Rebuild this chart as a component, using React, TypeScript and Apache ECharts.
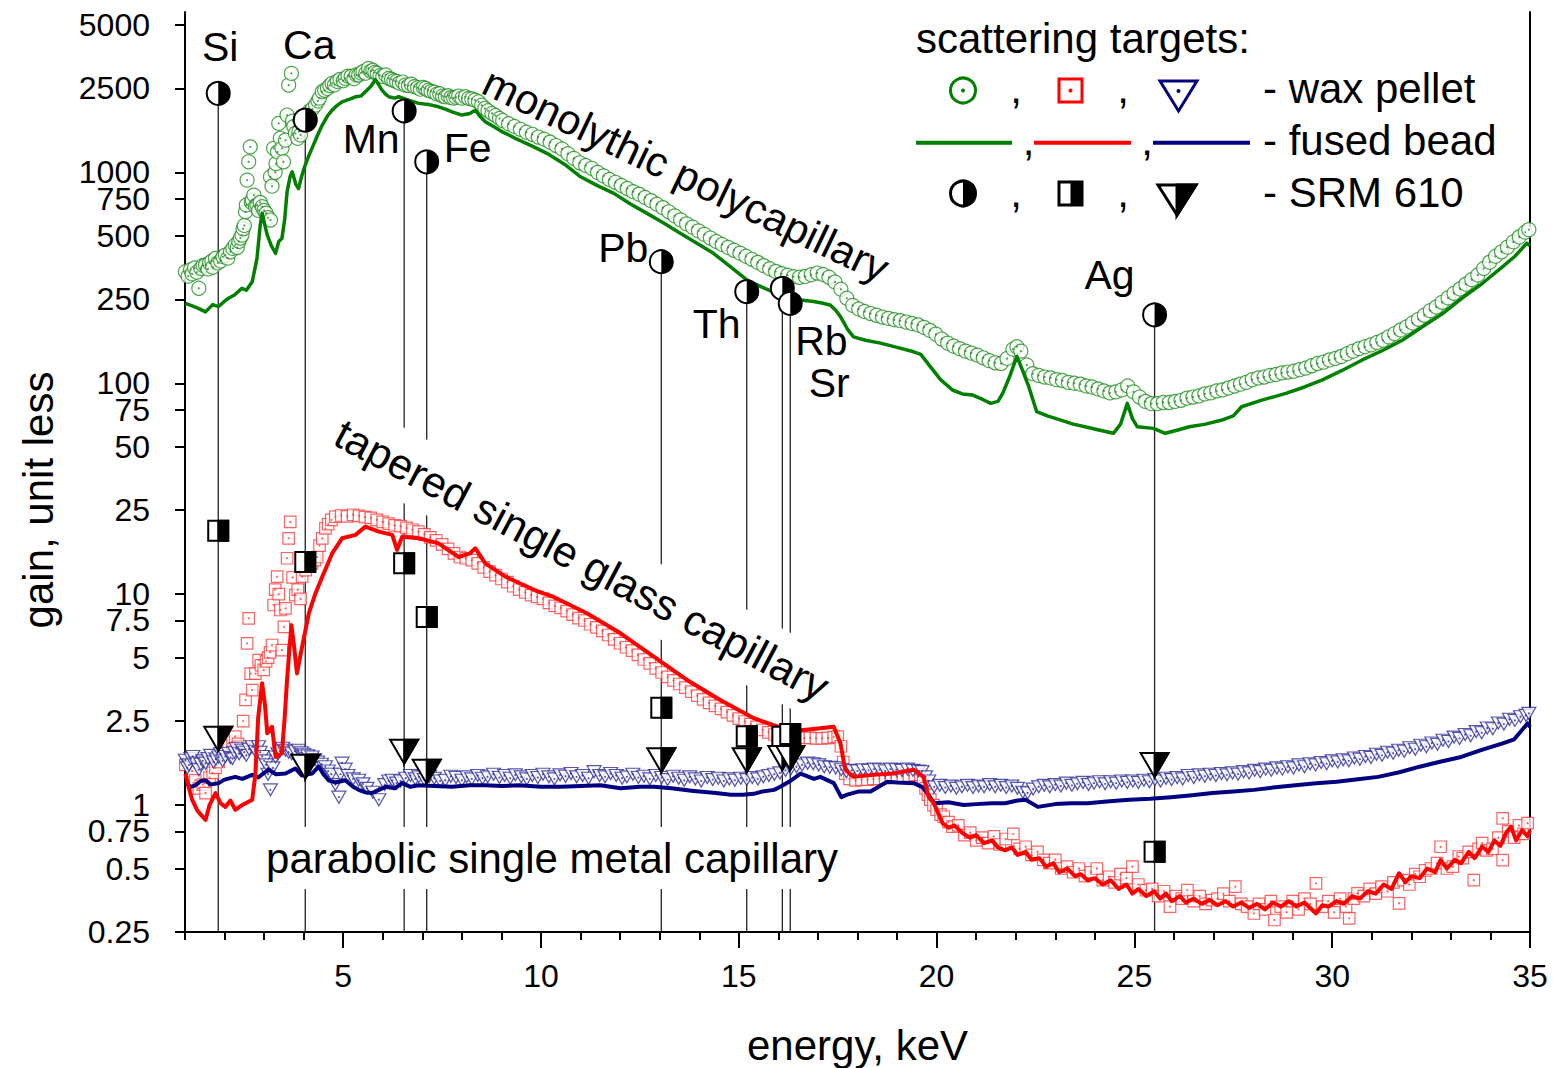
import React, { useEffect, useRef } from 'react';
import * as echarts from 'echarts';

const FONT = '"Liberation Sans", Arial, Helvetica, sans-serif';

// ---------------- axes ----------------
const yTickValues = [0.25, 0.5, 0.75, 1, 2.5, 5, 7.5, 10, 25, 50, 75, 100, 250, 500, 750, 1000, 2500, 5000];
const xMajorTicks = [5, 10, 15, 20, 25, 30, 35];
const xMinorTicks = [1, 2, 3, 4, 6, 7, 8, 9, 11, 12, 13, 14, 16, 17, 18, 19, 21, 22, 23, 24, 26, 27, 28, 29, 31, 32, 33, 34];
const yMin = 0.25;
const yMax = 5760;

// ---------------- SRM 610 points ----------------
const elementNames = ['Si', 'Ca', 'Mn', 'Fe', 'Pb', 'Th', 'Rb', 'Sr', 'Ag'];
const edgeEnergy = [1.84, 4.04, 6.54, 7.11, 13.04, 15.2, 16.1, 16.3, 25.51];
const srmMonolythic = [2370, 1770, 1954, 1122, 377, 272, 282, 239, 211];
const srmTapered = [20.0, 14.2, 14.0, 7.8, 2.89, 2.12, 2.11, 2.17, 0.6];
const srmParabolic = [2.06, 1.52, 1.79, 1.44, 1.63, 1.63, 1.67, 1.67, 1.55];

// ---------------- monolythic polycapillary ----------------
const monoWax = [
  [1.01, 338], [1.08, 322], [1.14, 345], [1.18, 330], [1.24, 352], [1.30, 336], [1.35, 282], [1.40, 350], [1.46, 362], [1.52, 363],
  [1.58, 348], [1.62, 372], [1.68, 380], [1.70, 355], [1.77, 391], [1.83, 372], [1.90, 380], [1.96, 398], [2.02, 405], [2.08, 392],
  [2.15, 420], [2.21, 436], [2.27, 452], [2.32, 440], [2.36, 470], [2.40, 488], [2.44, 504], [2.47, 540], [2.50, 560], [2.53, 650],
  [2.55, 700], [2.57, 919], [2.61, 1122], [2.65, 1321], [2.68, 720], [2.70, 740], [2.74, 780], [2.78, 690], [2.82, 700], [2.86, 660],
  [2.90, 720], [2.95, 687], [3.00, 660], [3.05, 640], [3.10, 610], [3.16, 594], [3.16, 953], [3.20, 860], [3.24, 1300], [3.28, 1000],
  [3.30, 1100], [3.34, 1250], [3.37, 1707], [3.41, 1450], [3.45, 1300], [3.49, 1122], [3.54, 1422], [3.58, 1869], [3.62, 2594], [3.69, 2946],
  [3.72, 1750], [3.75, 1650], [3.79, 1531], [3.85, 1450], [3.88, 1560], [3.92, 1504], [3.98, 1700], [4.04, 1869], [4.10, 1900], [4.15, 1950],
  [4.22, 2000], [4.30, 2084], [4.36, 2180], [4.40, 2250], [4.47, 2412], [4.53, 2450], [4.60, 2500], [4.66, 2580], [4.72, 2642], [4.78, 2600],
  [4.85, 2700], [4.92, 2760], [5.00, 2720], [5.05, 2791], [5.12, 2860], [5.20, 2850], [5.27, 2780], [5.33, 2900], [5.39, 2893], [5.45, 2960],
  [5.50, 3000], [5.57, 2950], [5.64, 3111], [5.70, 3020], [5.75, 3050], [5.80, 2980], [5.86, 2946], [5.93, 2880], [6.00, 2850], [6.07, 2900],
  [6.15, 2791], [6.22, 2760], [6.28, 2720], [6.35, 2700], [6.42, 2650], [6.50, 2680], [6.57, 2594], [6.65, 2580], [6.72, 2620], [6.80, 2550],
  [6.88, 2520], [6.95, 2480], [7.02, 2530], [7.08, 2502], [7.15, 2450], [7.22, 2420], [7.30, 2400], [7.37, 2350], [7.44, 2360], [7.51, 2300],
  [7.58, 2283], [7.65, 2310], [7.72, 2260], [7.79, 2250], [7.85, 2270], [7.92, 2300], [8.00, 2250], [8.09, 2283], [8.17, 2240], [8.25, 2230],
  [8.33, 2200], [8.42, 2161], [8.50, 2080], [8.58, 2010], [8.66, 1960], [8.76, 1902], [8.85, 1860], [8.95, 1800], [9.03, 1760], [9.18, 1700],
  [9.33, 1650], [9.48, 1600], [9.63, 1550], [9.78, 1515], [9.93, 1470], [10.08, 1435], [10.23, 1390], [10.38, 1340], [10.53, 1290], [10.68, 1225],
  [10.83, 1165], [10.98, 1110], [11.13, 1078], [11.28, 1045], [11.43, 1000], [11.58, 962], [11.73, 925], [11.88, 897], [12.03, 866], [12.18, 838],
  [12.33, 810], [12.48, 788], [12.63, 760], [12.78, 734], [12.93, 706], [13.08, 680], [13.23, 650], [13.38, 622], [13.53, 595], [13.68, 570],
  [13.83, 550], [13.98, 528], [14.13, 508], [14.28, 488], [14.43, 470], [14.58, 455], [14.73, 441], [14.88, 427], [15.03, 414], [15.18, 400],
  [15.33, 387], [15.48, 374], [15.63, 361], [15.78, 349], [15.93, 339], [16.08, 331], [16.23, 325], [16.38, 320], [16.53, 318], [16.68, 321],
  [16.83, 327], [16.98, 333], [17.13, 328], [17.28, 318], [17.43, 302], [17.58, 279], [17.73, 253], [17.88, 234], [18.03, 225], [18.18, 219],
  [18.33, 214], [18.48, 210], [18.63, 206], [18.78, 203], [18.93, 200], [19.08, 198], [19.23, 195], [19.38, 192], [19.53, 189], [19.68, 184],
  [19.83, 178], [19.98, 171], [20.13, 162], [20.28, 155], [20.43, 150], [20.58, 146], [20.73, 142], [20.88, 139], [21.03, 136], [21.18, 132],
  [21.33, 128], [21.48, 125], [21.63, 124], [21.78, 131], [21.93, 145], [22.03, 149], [22.13, 142], [22.28, 122], [22.43, 111], [22.58, 109],
  [22.73, 107], [22.88, 106], [23.03, 104], [23.18, 103], [23.33, 101], [23.48, 100], [23.63, 99], [23.78, 97], [23.93, 96], [24.08, 94],
  [24.23, 92], [24.38, 90], [24.53, 91], [24.68, 93], [24.83, 97], [24.98, 91], [25.13, 86], [25.28, 82], [25.43, 80], [25.58, 80],
  [25.73, 81], [25.88, 81], [26.03, 82], [26.18, 83], [26.33, 85], [26.48, 86], [26.63, 87], [26.78, 89], [26.93, 90], [27.08, 92],
  [27.23, 93], [27.38, 95], [27.53, 97], [27.68, 99], [27.83, 101], [27.98, 104], [28.13, 106], [28.28, 107], [28.43, 109], [28.58, 110],
  [28.73, 112], [28.88, 113], [29.03, 114], [29.18, 116], [29.33, 118], [29.48, 121], [29.63, 124], [29.78, 126], [29.93, 129], [30.08, 131],
  [30.23, 134], [30.38, 138], [30.53, 142], [30.68, 146], [30.83, 149], [30.98, 152], [31.13, 156], [31.28, 160], [31.43, 166], [31.58, 172],
  [31.73, 179], [31.88, 185], [32.03, 193], [32.18, 201], [32.33, 210], [32.48, 221], [32.63, 230], [32.78, 242], [32.93, 254], [33.08, 267],
  [33.23, 280], [33.38, 295], [33.53, 310], [33.68, 326], [33.83, 350], [33.98, 375], [34.13, 400], [34.28, 420], [34.43, 442], [34.58, 468],
  [34.73, 494], [34.88, 520], [34.97, 535],
];
const monoBead = [
  [1.01, 239], [1.20, 232], [1.35, 226], [1.52, 218], [1.70, 236], [1.85, 231], [2.00, 245], [2.10, 253], [2.25, 262], [2.44, 282],
  [2.55, 276], [2.70, 303], [2.82, 391], [2.90, 560], [2.95, 640], [3.02, 560], [3.08, 504], [3.18, 450], [3.29, 413], [3.37, 470],
  [3.45, 486], [3.52, 600], [3.58, 809], [3.66, 960], [3.71, 1007], [3.80, 880], [3.87, 839], [3.95, 960], [4.04, 1083], [4.13, 1200],
  [4.21, 1300], [4.35, 1500], [4.47, 1676], [4.60, 1850], [4.72, 1973], [4.85, 2080], [4.97, 2161], [5.15, 2220], [5.31, 2283], [5.45, 2300],
  [5.56, 2412], [5.70, 2560], [5.81, 2750], [5.90, 2600], [5.98, 2455], [6.07, 2350], [6.15, 2283], [6.30, 2250], [6.40, 2283], [6.65, 2200],
  [6.91, 2124], [7.15, 2100], [7.41, 2046], [7.60, 1990], [7.75, 1937], [8.00, 1869], [8.20, 1900], [8.34, 1973], [8.45, 1850], [8.59, 1738],
  [8.80, 1650], [9.02, 1557], [9.20, 1500], [9.35, 1449], [9.75, 1340], [10.15, 1231], [10.60, 1090], [11.00, 953], [11.40, 870], [11.84, 795],
  [12.25, 710], [12.68, 639], [13.10, 575], [13.52, 514], [13.95, 460], [14.36, 413], [14.80, 355], [15.21, 308], [15.60, 285], [16.05, 262],
  [16.30, 255], [16.56, 248], [16.89, 244], [17.10, 240], [17.31, 235], [17.45, 222], [17.57, 207], [17.75, 180], [17.90, 166], [18.20, 160],
  [18.58, 155], [19.00, 148], [19.42, 141], [19.60, 137], [19.84, 120], [20.10, 104], [20.40, 92.9], [20.65, 89], [20.91, 87.9], [21.15, 84],
  [21.37, 80.3], [21.55, 82], [21.67, 89.6], [21.85, 108], [22.03, 134], [22.15, 118], [22.33, 96.3], [22.53, 73.3], [22.80, 70], [23.14, 66.9],
  [23.45, 64], [23.75, 62.2], [24.10, 60], [24.47, 57.9], [24.65, 64], [24.82, 80.3], [24.95, 68], [25.07, 62.2], [25.48, 61.1], [25.78, 57.9],
  [26.10, 60], [26.39, 62.2], [26.80, 64], [27.21, 66.9], [27.50, 70], [27.71, 77.4], [27.95, 80], [28.22, 83.2], [28.50, 86], [28.83, 89.6],
  [29.30, 96], [29.74, 103.5], [30.25, 115], [30.76, 129], [31.27, 143], [31.77, 160], [32.28, 185], [32.79, 214], [33.30, 255], [33.80, 298],
  [34.31, 357], [34.62, 400], [34.92, 461], [35.00, 450],
];

// ---------------- tapered single glass capillary ----------------
const taperWax = [
  [1.01, 1.55], [1.10, 1.63], [1.18, 1.45], [1.26, 1.31], [1.35, 1.2], [1.45, 1.25], [1.52, 1.14], [1.62, 1.35], [1.70, 1.42], [1.77, 1.5],
  [1.85, 1.6], [1.95, 1.75], [2.02, 1.82], [2.10, 1.96], [2.20, 2.0], [2.27, 2.11], [2.34, 1.95], [2.40, 1.89], [2.47, 2.5], [2.53, 3.15],
  [2.57, 5.84], [2.61, 7.68], [2.66, 4.2], [2.70, 3.51], [2.78, 4.2], [2.86, 4.87], [2.92, 4.6], [2.99, 4.37], [3.05, 4.8], [3.10, 5.0],
  [3.15, 5.3], [3.20, 5.74], [3.24, 8.88], [3.28, 10.5], [3.33, 12.1], [3.37, 10.0], [3.41, 8.41], [3.45, 5.43], [3.50, 7.0], [3.54, 8.56],
  [3.58, 14.8], [3.62, 18.4], [3.66, 22.0], [3.72, 12.0], [3.79, 9.9], [3.85, 10.5], [3.92, 9.5], [3.96, 12.1], [4.05, 13.0], [4.13, 13.5],
  [4.21, 14.0], [4.28, 14.5], [4.34, 15.0], [4.40, 17.0], [4.47, 18.4], [4.55, 20.5], [4.62, 21.5], [4.70, 22.5], [4.80, 23.3], [4.95, 23.6],
  [5.10, 23.4], [5.25, 23.8], [5.40, 23.5], [5.55, 23.2], [5.70, 23.0], [5.85, 22.5], [6.00, 22.0], [6.15, 21.6], [6.30, 21.2], [6.45, 21.0],
  [6.60, 20.6], [6.75, 20.2], [6.90, 19.8], [7.05, 19.2], [7.20, 18.6], [7.35, 18.0], [7.50, 17.2], [7.65, 16.4], [7.80, 15.6], [7.95, 15.0],
  [8.10, 14.8], [8.25, 14.5], [8.40, 14.0], [8.55, 13.4], [8.70, 12.8], [8.85, 12.3], [9.00, 11.8], [9.15, 11.4], [9.30, 10.9], [9.45, 10.5],
  [9.60, 10.2], [9.75, 9.9], [9.90, 9.7], [10.05, 9.5], [10.20, 9.1], [10.35, 8.8], [10.50, 8.6], [10.65, 8.3], [10.80, 8.0], [10.95, 7.7],
  [11.10, 7.5], [11.25, 7.2], [11.40, 6.95], [11.55, 6.7], [11.70, 6.4], [11.85, 6.1], [12.00, 5.85], [12.15, 5.6], [12.30, 5.4], [12.45, 5.15],
  [12.60, 4.9], [12.75, 4.7], [12.90, 4.45], [13.05, 4.25], [13.20, 4.05], [13.35, 3.9], [13.50, 3.75], [13.65, 3.6], [13.80, 3.45], [13.95, 3.3],
  [14.10, 3.17], [14.25, 3.05], [14.40, 2.95], [14.55, 2.86], [14.70, 2.76], [14.85, 2.66], [15.00, 2.57], [15.15, 2.49], [15.30, 2.42], [15.45, 2.35],
  [15.60, 2.27], [15.75, 2.21], [15.90, 2.16], [16.05, 2.13], [16.20, 2.11], [16.35, 2.1], [16.50, 2.09], [16.65, 2.08], [16.80, 2.08], [16.95, 2.07],
  [17.10, 2.07], [17.25, 2.08], [17.40, 2.1], [17.50, 2.11], [17.58, 1.9], [17.64, 1.6], [17.69, 1.41], [17.80, 1.33], [17.95, 1.31], [18.10, 1.32],
  [18.25, 1.32], [18.40, 1.33], [18.55, 1.33], [18.70, 1.34], [18.85, 1.35], [19.00, 1.36], [19.15, 1.37], [19.30, 1.38], [19.45, 1.39], [19.59, 1.39],
  [19.66, 1.3], [19.72, 1.2], [19.78, 1.12], [19.84, 1.06], [19.92, 1.0], [20.00, 0.95], [20.10, 0.9], [20.18, 0.88], [20.30, 0.83], [20.40, 0.79],
  [20.55, 0.8], [20.70, 0.72], [20.85, 0.74], [21.00, 0.68], [21.15, 0.7], [21.30, 0.66], [21.45, 0.71], [21.60, 0.65], [21.75, 0.69], [21.94, 0.73],
  [22.10, 0.62], [22.25, 0.634], [22.40, 0.58], [22.55, 0.6], [22.70, 0.55], [22.85, 0.53], [23.00, 0.55], [23.15, 0.5], [23.30, 0.51], [23.45, 0.48],
  [23.60, 0.5], [23.75, 0.46], [23.90, 0.48], [24.05, 0.5], [24.20, 0.44], [24.36, 0.457], [24.50, 0.43], [24.65, 0.47], [24.80, 0.45], [24.95, 0.51],
  [25.10, 0.42], [25.29, 0.395], [25.45, 0.4], [25.60, 0.37], [25.75, 0.39], [25.90, 0.33], [26.05, 0.37], [26.20, 0.36], [26.34, 0.395], [26.50, 0.35],
  [26.65, 0.37], [26.80, 0.34], [26.97, 0.354], [27.10, 0.36], [27.25, 0.38], [27.40, 0.35], [27.55, 0.41], [27.70, 0.34], [27.85, 0.33], [28.02, 0.306],
  [28.15, 0.34], [28.30, 0.32], [28.45, 0.35], [28.54, 0.285], [28.70, 0.33], [28.85, 0.31], [29.00, 0.35], [29.15, 0.32], [29.30, 0.36], [29.45, 0.34],
  [29.59, 0.425], [29.75, 0.33], [29.90, 0.35], [30.05, 0.31], [30.20, 0.36], [30.35, 0.33], [30.43, 0.29], [30.55, 0.36], [30.64, 0.381], [30.80, 0.37],
  [30.95, 0.4], [31.10, 0.38], [31.25, 0.41], [31.40, 0.39], [31.55, 0.43], [31.69, 0.342], [31.80, 0.44], [31.95, 0.42], [32.10, 0.47], [32.21, 0.457],
  [32.35, 0.49], [32.50, 0.5], [32.65, 0.53], [32.74, 0.634], [32.90, 0.5], [33.05, 0.51], [33.20, 0.57], [33.30, 0.56], [33.45, 0.6], [33.58, 0.44],
  [33.70, 0.62], [33.79, 0.66], [33.90, 0.61], [34.05, 0.62], [34.20, 0.7], [34.31, 0.865], [34.31, 0.548], [34.45, 0.75], [34.60, 0.7], [34.72, 0.8],
  [34.84, 0.73], [34.94, 0.82],
];
const taperBead = [
  [1.01, 1.41], [1.10, 1.2], [1.18, 1.06], [1.30, 0.95], [1.40, 0.9], [1.52, 0.85], [1.62, 1.0], [1.77, 1.14], [1.90, 1.02], [2.02, 0.98],
  [2.15, 1.05], [2.27, 0.95], [2.45, 1.0], [2.70, 1.06], [2.78, 1.41], [2.85, 2.6], [2.95, 3.78], [3.02, 3.0], [3.08, 2.19], [3.20, 2.35],
  [3.29, 1.69], [3.45, 1.76], [3.52, 2.6], [3.58, 3.92], [3.64, 5.5], [3.69, 7.13], [3.76, 5.6], [3.83, 4.21], [3.96, 5.63], [4.13, 8.11],
  [4.30, 10.1], [4.47, 12.1], [4.72, 15.6], [4.97, 18.4], [5.31, 19.1], [5.56, 20.9], [5.90, 19.8], [6.24, 19.1], [6.36, 16.2], [6.49, 18.7],
  [6.91, 18.4], [7.41, 17.4], [7.92, 15.0], [8.20, 15.6], [8.34, 16.5], [8.59, 14.0], [9.10, 12.1], [9.86, 10.4], [10.32, 9.7], [11.16, 8.11],
  [12.01, 6.52], [12.85, 5.05], [13.69, 3.92], [14.53, 3.15], [15.38, 2.58], [15.88, 2.39], [16.22, 2.27], [16.64, 2.27], [17.06, 2.31], [17.40, 2.35],
  [17.57, 1.96], [17.69, 1.47], [17.90, 1.36], [18.41, 1.39], [18.91, 1.41], [19.42, 1.47], [19.67, 1.36], [19.80, 1.09], [19.93, 1.02], [20.15, 0.82],
  [20.30, 0.78], [20.45, 0.8], [20.68, 0.73], [20.85, 0.7], [21.00, 0.72], [21.20, 0.66], [21.40, 0.68], [21.55, 0.63], [21.73, 0.61], [21.90, 0.63],
  [22.05, 0.58], [22.25, 0.6], [22.40, 0.55], [22.60, 0.56], [22.77, 0.51], [22.95, 0.53], [23.10, 0.48], [23.30, 0.5], [23.50, 0.46], [23.65, 0.47],
  [23.82, 0.44], [24.00, 0.45], [24.20, 0.42], [24.40, 0.44], [24.60, 0.4], [24.80, 0.42], [24.95, 0.38], [25.10, 0.4], [25.30, 0.37], [25.50, 0.39],
  [25.65, 0.36], [25.80, 0.38], [25.95, 0.35], [26.15, 0.37], [26.30, 0.345], [26.50, 0.36], [26.70, 0.34], [26.90, 0.355], [27.10, 0.335], [27.30, 0.35],
  [27.50, 0.33], [27.70, 0.345], [27.90, 0.325], [28.10, 0.34], [28.30, 0.32], [28.50, 0.345], [28.70, 0.33], [28.90, 0.35], [29.10, 0.33], [29.30, 0.345],
  [29.59, 0.306], [29.75, 0.335], [29.90, 0.33], [30.11, 0.35], [30.30, 0.34], [30.50, 0.37], [30.70, 0.36], [30.90, 0.39], [31.10, 0.38], [31.30, 0.42],
  [31.50, 0.4], [31.69, 0.475], [31.85, 0.43], [32.00, 0.46], [32.21, 0.45], [32.40, 0.5], [32.60, 0.48], [32.74, 0.548], [32.90, 0.5], [33.10, 0.55],
  [33.26, 0.53], [33.45, 0.6], [33.60, 0.56], [33.79, 0.634], [33.95, 0.6], [34.10, 0.68], [34.25, 0.64], [34.40, 0.74], [34.52, 0.79], [34.65, 0.68],
  [34.80, 0.76], [34.94, 0.71], [35.00, 0.76],
];

// ---------------- parabolic single metal capillary ----------------
const paraWax = [
  [1.01, 1.63], [1.06, 1.5], [1.10, 1.55], [1.15, 1.66], [1.20, 1.7], [1.27, 1.58], [1.35, 1.47], [1.40, 1.56], [1.45, 1.62], [1.52, 1.58],
  [1.58, 1.66], [1.65, 1.72], [1.72, 1.6], [1.78, 1.65], [1.85, 1.69], [1.90, 1.75], [1.95, 1.62], [2.02, 1.7], [2.10, 1.76], [2.15, 1.68],
  [2.20, 1.66], [2.25, 1.78], [2.30, 1.85], [2.37, 1.75], [2.44, 1.82], [2.50, 1.78], [2.55, 1.72], [2.62, 1.84], [2.70, 1.89], [2.78, 1.8],
  [2.86, 1.89], [2.90, 1.78], [2.95, 1.7], [3.00, 1.62], [3.05, 1.55], [3.10, 1.4], [3.16, 1.18], [3.22, 1.5], [3.29, 1.69], [3.35, 1.75],
  [3.40, 1.8], [3.47, 1.86], [3.54, 1.82], [3.62, 1.78], [3.70, 1.75], [3.78, 1.8], [3.87, 1.82], [3.94, 1.77], [4.00, 1.74], [4.10, 1.71],
  [4.21, 1.69], [4.28, 1.64], [4.35, 1.6], [4.45, 1.56], [4.55, 1.52], [4.62, 1.45], [4.70, 1.4], [4.80, 1.25], [4.89, 1.09], [4.93, 1.4],
  [4.97, 1.58], [5.05, 1.48], [5.12, 1.38], [5.25, 1.33], [5.39, 1.31], [5.50, 1.26], [5.60, 1.2], [5.75, 1.15], [5.90, 1.06], [6.05, 1.25],
  [6.15, 1.3], [6.24, 1.31], [6.35, 1.27], [6.45, 1.3], [6.58, 1.34], [6.70, 1.38], [6.82, 1.33], [6.91, 1.36], [7.05, 1.32], [7.18, 1.37],
  [7.30, 1.34], [7.45, 1.3], [7.58, 1.31], [7.72, 1.37], [7.85, 1.35], [8.00, 1.31], [8.12, 1.36], [8.25, 1.33], [8.40, 1.38], [8.52, 1.34],
  [8.65, 1.36], [8.80, 1.4], [8.95, 1.35], [9.08, 1.38], [9.22, 1.34], [9.35, 1.39], [9.50, 1.36], [9.64, 1.33], [9.78, 1.38], [9.92, 1.35],
  [10.05, 1.4], [10.20, 1.36], [10.34, 1.33], [10.48, 1.39], [10.62, 1.37], [10.76, 1.41], [10.90, 1.36], [11.05, 1.38], [11.20, 1.34], [11.34, 1.44],
  [11.48, 1.38], [11.62, 1.36], [11.76, 1.41], [11.90, 1.38], [12.05, 1.34], [12.17, 1.36], [12.32, 1.4], [12.46, 1.35], [12.60, 1.37], [12.75, 1.33],
  [12.90, 1.38], [13.05, 1.35], [13.20, 1.32], [13.34, 1.37], [13.48, 1.34], [13.62, 1.31], [13.76, 1.36], [13.90, 1.33], [14.05, 1.3], [14.20, 1.35],
  [14.34, 1.32], [14.48, 1.34], [14.62, 1.3], [14.76, 1.33], [14.90, 1.31], [15.05, 1.34], [15.20, 1.32], [15.34, 1.35], [15.48, 1.33], [15.62, 1.36],
  [15.76, 1.38], [15.90, 1.4], [16.04, 1.42], [16.18, 1.46], [16.32, 1.49], [16.46, 1.52], [16.60, 1.55], [16.74, 1.58], [16.88, 1.57], [17.02, 1.55],
  [17.16, 1.52], [17.30, 1.51], [17.45, 1.5], [17.59, 1.47], [17.72, 1.44], [17.86, 1.46], [18.00, 1.45], [18.14, 1.47], [18.28, 1.46], [18.42, 1.48],
  [18.56, 1.47], [18.70, 1.45], [18.84, 1.48], [18.98, 1.47], [19.12, 1.46], [19.26, 1.48], [19.40, 1.46], [19.54, 1.45], [19.63, 1.44], [19.72, 1.36],
  [19.80, 1.3], [19.94, 1.22], [20.08, 1.24], [20.22, 1.21], [20.36, 1.23], [20.50, 1.2], [20.64, 1.22], [20.78, 1.24], [20.92, 1.21], [21.06, 1.23],
  [21.20, 1.22], [21.34, 1.25], [21.48, 1.22], [21.62, 1.24], [21.76, 1.21], [21.90, 1.23], [22.04, 1.2], [22.18, 1.15], [22.30, 1.14], [22.44, 1.19],
  [22.58, 1.22], [22.72, 1.24], [22.86, 1.22], [23.00, 1.25], [23.14, 1.23], [23.28, 1.27], [23.42, 1.24], [23.56, 1.26], [23.70, 1.28], [23.84, 1.25],
  [23.98, 1.27], [24.12, 1.29], [24.26, 1.26], [24.40, 1.29], [24.54, 1.27], [24.68, 1.3], [24.82, 1.28], [24.96, 1.3], [25.10, 1.28], [25.24, 1.31],
  [25.38, 1.29], [25.52, 1.32], [25.66, 1.3], [25.80, 1.34], [25.94, 1.32], [26.08, 1.35], [26.22, 1.33], [26.36, 1.38], [26.50, 1.35], [26.64, 1.39],
  [26.78, 1.37], [26.92, 1.4], [27.06, 1.38], [27.20, 1.41], [27.34, 1.39], [27.48, 1.42], [27.62, 1.4], [27.76, 1.44], [27.90, 1.42], [28.04, 1.46],
  [28.18, 1.44], [28.32, 1.48], [28.46, 1.46], [28.60, 1.5], [28.74, 1.48], [28.88, 1.52], [29.02, 1.5], [29.16, 1.55], [29.30, 1.52], [29.44, 1.57],
  [29.58, 1.55], [29.72, 1.59], [29.86, 1.57], [30.00, 1.62], [30.14, 1.6], [30.28, 1.64], [30.42, 1.62], [30.56, 1.67], [30.70, 1.65], [30.84, 1.7],
  [30.98, 1.68], [31.12, 1.74], [31.26, 1.72], [31.40, 1.78], [31.54, 1.76], [31.68, 1.82], [31.82, 1.8], [31.96, 1.87], [32.10, 1.84], [32.24, 1.92],
  [32.38, 1.89], [32.52, 1.97], [32.66, 1.94], [32.80, 2.03], [32.94, 2.0], [33.08, 2.1], [33.22, 2.07], [33.36, 2.16], [33.50, 2.13], [33.64, 2.23],
  [33.78, 2.2], [33.92, 2.32], [34.06, 2.3], [34.20, 2.45], [34.34, 2.42], [34.48, 2.55], [34.62, 2.52], [34.76, 2.62], [34.90, 2.66], [34.97, 2.72],
];
const paraBead = [
  [1.01, 1.27], [1.15, 1.22], [1.26, 1.24], [1.40, 1.3], [1.52, 1.31], [1.65, 1.25], [1.85, 1.27], [2.00, 1.32], [2.27, 1.36], [2.45, 1.33],
  [2.70, 1.39], [2.85, 1.35], [3.00, 1.42], [3.12, 1.47], [3.30, 1.4], [3.54, 1.41], [3.79, 1.49], [3.95, 1.38], [4.21, 1.41], [4.38, 1.52],
  [4.50, 1.4], [4.63, 1.31], [4.80, 1.28], [5.05, 1.31], [5.25, 1.22], [5.39, 1.18], [5.55, 1.15], [5.73, 1.14], [5.90, 1.18], [6.07, 1.22],
  [6.30, 1.2], [6.49, 1.27], [6.70, 1.22], [6.91, 1.24], [7.30, 1.23], [7.75, 1.22], [8.20, 1.24], [8.59, 1.24], [9.00, 1.23], [9.44, 1.24],
  [10.00, 1.22], [10.50, 1.22], [11.00, 1.23], [11.50, 1.24], [12.01, 1.2], [12.50, 1.22], [12.85, 1.22], [13.30, 1.2], [13.80, 1.17], [14.42, 1.14],
  [14.80, 1.12], [15.10, 1.12], [15.38, 1.13], [15.60, 1.16], [15.89, 1.18], [16.05, 1.22], [16.30, 1.3], [16.56, 1.41], [16.90, 1.33], [17.06, 1.36],
  [17.40, 1.27], [17.59, 1.09], [17.74, 1.12], [18.04, 1.16], [18.33, 1.16], [18.75, 1.29], [19.00, 1.28], [19.42, 1.27], [19.63, 1.22], [19.76, 1.14],
  [19.94, 1.02], [20.30, 1.03], [20.68, 1.0], [21.00, 1.01], [21.40, 1.02], [21.73, 1.02], [22.05, 1.05], [22.25, 1.06], [22.56, 0.98], [23.00, 1.01],
  [23.40, 1.02], [23.82, 1.02], [24.30, 1.04], [24.87, 1.06], [25.40, 1.07], [25.92, 1.09], [26.40, 1.11], [26.97, 1.14], [27.50, 1.16], [28.02, 1.18],
  [28.50, 1.21], [29.07, 1.24], [29.60, 1.27], [30.11, 1.29], [30.60, 1.32], [31.16, 1.36], [31.70, 1.43], [32.21, 1.52], [32.70, 1.6], [33.26, 1.69],
  [33.80, 1.83], [34.31, 1.96], [34.60, 2.05], [34.94, 2.44], [35.00, 2.35],
];

// ---------------- styles / layout ----------------
const GREEN = '#008000';
const RED = '#ff0000';
const NAVY = '#000080';
const labelOffset = [[2, -46], [4, -75], [-33, 28], [41, -14], [-38, -14], [-30, 32], [39, 53], [39, 80], [-45, -40]];

const srmCircleData = edgeEnergy.map((e, i) => [e, srmMonolythic[i], i]);
const srmSquareData = edgeEnergy.map((e, i) => [e, srmTapered[i], i]);
const srmTriangleData = edgeEnergy.map((e, i) => [e, srmParabolic[i], i]);

function waxSeries(name: string, data: number[][], symbol: string, size: any, color: string, rotate = 0) {
  return [
    {
      name,
      type: 'scatter',
      data,
      symbol,
      symbolSize: size,
      symbolRotate: rotate,
      z: 3,
      itemStyle: { color: '#ffffff', borderColor: color, borderWidth: 1.2 },
      emphasis: { disabled: true },
    },
    {
      name: name + ' dot',
      type: 'scatter',
      data,
      symbol: 'circle',
      symbolSize: 2.2,
      z: 3,
      itemStyle: { color },
      emphasis: { disabled: true },
    },
  ];
}

function beadSeries(name: string, data: number[][], color: string, width: number, z: number) {
  return {
    name,
    type: 'line',
    data,
    showSymbol: false,
    symbol: 'none',
    z,
    lineStyle: { color, width, join: 'round' },
    emphasis: { disabled: true },
  };
}

const textFont = (s: number) => `${s}px ${FONT}`;

function buildLegend() {
  const els: any[] = [];
  const T = (text: string, x: number, y: number, align = 'left') => ({
    type: 'text', x, y, z: 6,
    style: { text, font: textFont(42), fill: '#000', align, verticalAlign: 'middle', textAlign: align, textVerticalAlign: 'middle' },
  });
  els.push(T('scattering targets:', 916, 38.7));
  els.push({ type: 'circle', z: 6, shape: { cx: 963, cy: 90.5, r: 12.5 }, style: { fill: '#fff', stroke: GREEN, lineWidth: 3 } });
  els.push({ type: 'circle', z: 6, shape: { cx: 963, cy: 90.5, r: 2 }, style: { fill: GREEN } });
  els.push(T(',', 1016, 88.7, 'center'));
  els.push({ type: 'rect', z: 6, shape: { x: 1059, y: 79, width: 23, height: 23 }, style: { fill: '#fff', stroke: RED, lineWidth: 3 } });
  els.push({ type: 'circle', z: 6, shape: { cx: 1070.5, cy: 90.5, r: 2 }, style: { fill: RED } });
  els.push(T(',', 1123, 88.7, 'center'));
  els.push({ type: 'polygon', z: 6, shape: { points: [[1160, 81], [1197, 81], [1178.5, 111]] }, style: { fill: '#fff', stroke: NAVY, lineWidth: 3 } });
  els.push({ type: 'circle', z: 6, shape: { cx: 1178.5, cy: 91, r: 2 }, style: { fill: NAVY } });
  els.push(T('- wax pellet', 1263, 88.7));
  els.push({ type: 'line', z: 6, shape: { x1: 916, y1: 142.7, x2: 1012, y2: 142.7 }, style: { stroke: GREEN, lineWidth: 4 } });
  els.push(T(',', 1028.5, 140.4, 'center'));
  els.push({ type: 'line', z: 6, shape: { x1: 1034, y1: 142.7, x2: 1131, y2: 142.7 }, style: { stroke: RED, lineWidth: 4 } });
  els.push(T(',', 1147, 140.4, 'center'));
  els.push({ type: 'line', z: 6, shape: { x1: 1153, y1: 142.7, x2: 1250, y2: 142.7 }, style: { stroke: NAVY, lineWidth: 4 } });
  els.push(T('- fused bead', 1263, 140.4));
  els.push({ type: 'circle', z: 6, shape: { cx: 963, cy: 193.5, r: 12.5 }, style: { fill: '#fff', stroke: '#000', lineWidth: 3 } });
  els.push({ type: 'sector', z: 6, shape: { cx: 963, cy: 193.5, r0: 0, r: 12.5, startAngle: -Math.PI / 2, endAngle: Math.PI / 2, clockwise: true }, style: { fill: '#000' } });
  els.push(T(',', 1016, 192.1, 'center'));
  els.push({ type: 'rect', z: 6, shape: { x: 1059, y: 182, width: 23, height: 23 }, style: { fill: '#fff', stroke: '#000', lineWidth: 3 } });
  els.push({ type: 'rect', z: 6, shape: { x: 1070.5, y: 182, width: 11.5, height: 23 }, style: { fill: '#000' } });
  els.push(T(',', 1123, 192.1, 'center'));
  els.push({ type: 'polygon', z: 6, shape: { points: [[1158, 185], [1196, 185], [1177, 215]] }, style: { fill: '#fff', stroke: '#000', lineWidth: 3 } });
  els.push({ type: 'polygon', z: 6, shape: { points: [[1177, 185], [1196, 185], [1177, 215]] }, style: { fill: '#000', stroke: '#000', lineWidth: 3 } });
  els.push(T('- SRM 610', 1263, 192.1));
  return els;
}

function buildAnnotations() {
  const mk = (text: string, x: number, y: number, deg: number, size: number, pad: number[], bg: string | null) => ({
    type: 'text', x, y, z: 2, rotation: (deg * Math.PI) / 180,
    style: {
      text, font: textFont(size), fill: '#000', align: 'center', verticalAlign: 'middle',
      textAlign: 'center', textVerticalAlign: 'middle', backgroundColor: bg || undefined, padding: pad,
    },
  });
  return [
    mk('monolythic polycapillary', 686, 175, -25.5, 42, [4, 4], '#ffffff'),
    mk('tapered single glass capillary', 582, 560, -28, 43, [12, 6], '#ffffff'),
    mk('parabolic single metal capillary', 552, 858, 0, 42, [10, 6], '#ffffff'),
    mk('gain, unit less', 38, 500, 90, 42, [0, 0], null),
  ];
}

export default function App() {
  const ref = useRef<HTMLDivElement>(null);
  useEffect(() => {
    if (!ref.current) return;
    const chart = echarts.init(ref.current, null, { renderer: 'svg' });
    const option: any = {
      animation: false,
      backgroundColor: '#ffffff',
      textStyle: { fontFamily: FONT },
      grid: { left: 185, right: 23, top: 12, bottom: 136, containLabel: false, outerBoundsMode: 'none' },
      xAxis: [
        {
          type: 'value', min: 1, max: 35, position: 'bottom',
          name: 'energy, keV', nameLocation: 'middle', nameGap: 92,
          nameTextStyle: { fontSize: 42, color: '#000', fontFamily: FONT },
          axisLine: { show: true, lineStyle: { color: '#000', width: 2 } },
          axisTick: { show: true, customValues: xMajorTicks, length: 16, lineStyle: { color: '#000', width: 2 } },
          axisLabel: { show: true, customValues: xMajorTicks, fontSize: 32, color: '#000', fontFamily: FONT, margin: 28, formatter: (v: number) => String(v) },
          splitLine: { show: false },
        },
        {
          type: 'value', min: 1, max: 35, position: 'bottom',
          axisLine: { show: false },
          axisTick: { show: true, customValues: xMinorTicks, length: 8, lineStyle: { color: '#000', width: 2 } },
          axisLabel: { show: false },
          splitLine: { show: false },
        },
      ],
      yAxis: [
        {
          type: 'log', min: yMin, max: yMax, position: 'left',
          axisLine: { show: true, lineStyle: { color: '#000', width: 2 } },
          axisTick: { show: true, customValues: yTickValues, length: 10, lineStyle: { color: '#000', width: 2 } },
          axisLabel: { show: true, customValues: yTickValues, fontSize: 32, color: '#000', fontFamily: FONT, margin: 35, formatter: (v: number) => String(v) },
          splitLine: { show: false },
          minorSplitLine: { show: false },
        },
        {
          type: 'log', min: yMin, max: yMax, position: 'right',
          axisLine: { show: true, lineStyle: { color: '#000', width: 2 } },
          axisTick: { show: false },
          axisLabel: { show: false },
          splitLine: { show: false },
        },
      ],
      graphic: { elements: [...buildAnnotations(), ...buildLegend()] },
      series: [
        {
          name: 'edge lines',
          type: 'custom',
          z: 1,
          silent: true,
          data: srmCircleData,
          renderItem: (params: any, api: any) => {
            const top = api.coord([api.value(0), api.value(1)]);
            const bottom = api.coord([api.value(0), yMin]);
            return {
              type: 'line',
              shape: { x1: top[0], y1: top[1], x2: bottom[0], y2: bottom[1] },
              style: { stroke: '#222', lineWidth: 1.3 },
            };
          },
        },
        ...waxSeries('monolythic wax pellet', monoWax, 'circle', 14, '#1e8c1e'),
        ...waxSeries('tapered wax pellet', taperWax, 'rect', 11.5, '#ff3b3b'),
        ...waxSeries('parabolic wax pellet', paraWax, 'triangle', [14, 12], '#2b2b9a', 180),
        beadSeries('parabolic fused bead', paraBead, NAVY, 4, 4),
        beadSeries('tapered fused bead', taperBead, RED, 4, 4),
        beadSeries('monolythic fused bead', monoBead, GREEN, 3.5, 4),
        {
          name: 'SRM 610 monolythic',
          type: 'custom',
          z: 5,
          silent: true,
          data: srmCircleData,
          renderItem: (params: any, api: any) => {
            const idx = api.value(2);
            const p = api.coord([api.value(0), api.value(1)]);
            const r = 11.5;
            const off = labelOffset[idx];
            return {
              type: 'group',
              children: [
                { type: 'circle', shape: { cx: p[0], cy: p[1], r }, style: { fill: '#fff', stroke: '#000', lineWidth: 2 } },
                { type: 'sector', shape: { cx: p[0], cy: p[1], r0: 0, r, startAngle: -Math.PI / 2, endAngle: Math.PI / 2, clockwise: true }, style: { fill: '#000' } },
                {
                  type: 'text', x: p[0] + off[0], y: p[1] + off[1],
                  style: { text: elementNames[idx], font: textFont(41), fill: '#000', align: 'center', verticalAlign: 'middle' },
                },
              ],
            };
          },
        },
        {
          name: 'SRM 610 tapered',
          type: 'custom',
          z: 5,
          silent: true,
          data: srmSquareData,
          renderItem: (params: any, api: any) => {
            const p = api.coord([api.value(0), api.value(1)]);
            const h = 10;
            return {
              type: 'group',
              children: [
                { type: 'rect', shape: { x: p[0] - h, y: p[1] - h, width: 2 * h, height: 2 * h }, style: { fill: '#fff', stroke: '#000', lineWidth: 2 } },
                { type: 'rect', shape: { x: p[0], y: p[1] - h, width: h, height: 2 * h }, style: { fill: '#000', stroke: '#000', lineWidth: 2 } },
              ],
            };
          },
        },
        {
          name: 'SRM 610 parabolic',
          type: 'custom',
          z: 5,
          silent: true,
          data: srmTriangleData,
          renderItem: (params: any, api: any) => {
            const p = api.coord([api.value(0), api.value(1)]);
            const w = 14;
            const h = 12;
            return {
              type: 'group',
              children: [
                { type: 'polygon', shape: { points: [[p[0] - w, p[1] - h], [p[0] + w, p[1] - h], [p[0], p[1] + h]] }, style: { fill: '#fff', stroke: '#000', lineWidth: 2 } },
                { type: 'polygon', shape: { points: [[p[0], p[1] - h], [p[0] + w, p[1] - h], [p[0], p[1] + h]] }, style: { fill: '#000', stroke: '#000', lineWidth: 2 } },
              ],
            };
          },
        },
      ],
    };
    chart.setOption(option);
    return () => chart.dispose();
  }, []);
  return (
    <div
      ref={ref}
      style={{ position: 'fixed', left: 0, top: 0, width: 1553, height: 1068, background: '#fff' }}
    />
  );
}
